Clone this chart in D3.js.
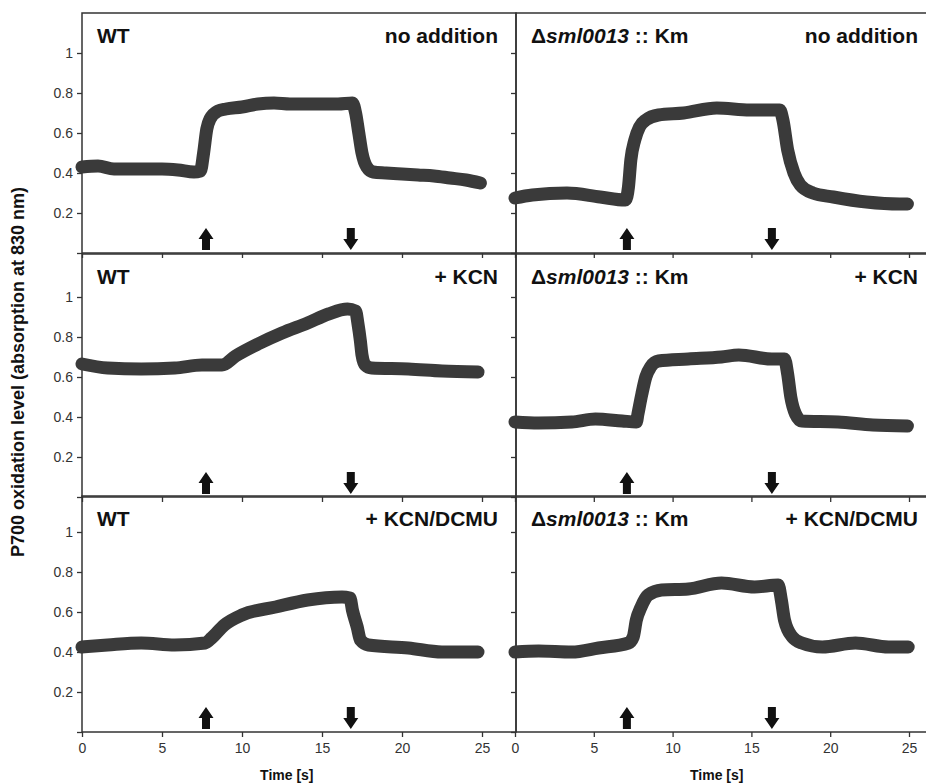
<!DOCTYPE html>
<html lang="en">
<head>
  <meta charset="UTF-8">
  <title>P700 oxidation traces</title>
  <style>
    body { margin: 0; background: #fff; }
    svg { display: block; font-family: "Liberation Sans", Arial, sans-serif; }
  </style>
</head>
<body>
  <svg class="p700-chart"></svg>
  <script src="https://cdn.jsdelivr.net/npm/d3@7"></script>
  <script>
    var w = 926;
    var h = 784;

    // tick values and labels
    var timeTicks = [0, 5, 10, 15, 20, 25];
    var levelTicks = [0, 0.2, 0.4, 0.6, 0.8, 1];
    var genotypes = ["WT", "Δsml0013 :: Km"];
    var treatments = ["no addition", "+ KCN", "+ KCN/DCMU"];

    // light on / light off arrows (s), per column
    var arrowTimes = [[7.75, 16.8], [7.1, 16.3]];

    // traces: [time (s), oxidation level]
    var wtNone = [
      [0, 0.43], [1, 0.435], [2, 0.42], [3, 0.42], [4, 0.42], [5, 0.42], [6, 0.415], [7, 0.405],
      [7.4, 0.41], [7.6, 0.5], [7.8, 0.62], [8.0, 0.67], [8.5, 0.71], [9, 0.72], [10, 0.73],
      [11, 0.745], [12, 0.75], [13, 0.745], [14, 0.745], [15, 0.745], [16, 0.745], [16.9, 0.75],
      [17.1, 0.7], [17.3, 0.6], [17.5, 0.5], [17.8, 0.43], [18.2, 0.405], [19, 0.4], [20, 0.395],
      [21, 0.39], [22, 0.385], [23, 0.375], [24, 0.365], [24.9, 0.35]
    ];
    var wtKcn = [
      [0, 0.665], [1.6, 0.645], [3.7, 0.64], [5.8, 0.645], [7.5, 0.66], [8.75, 0.66],
      [9.6, 0.705], [11, 0.765], [12.5, 0.82], [14.1, 0.87], [15.4, 0.915], [16.6, 0.94],
      [17.1, 0.93], [17.25, 0.865], [17.4, 0.78], [17.5, 0.71], [17.7, 0.66], [18.1, 0.645],
      [20.4, 0.64], [22.5, 0.63], [24.75, 0.625]
    ];
    var wtKcnDcmu = [
      [0, 0.425], [1.6, 0.435], [3.7, 0.445], [5.8, 0.435], [7.7, 0.445], [8.1, 0.47],
      [8.9, 0.535], [10, 0.585], [12.1, 0.625], [14.1, 0.66], [16.25, 0.675], [16.75, 0.67],
      [16.9, 0.61], [17.2, 0.525], [17.4, 0.46], [17.9, 0.435], [20.4, 0.42], [22.5, 0.4],
      [24.75, 0.4]
    ];
    var mutNone = [
      [0, 0.275], [1.1, 0.29], [3.3, 0.3], [5.4, 0.28], [7.0, 0.265], [7.2, 0.33], [7.35, 0.465],
      [7.6, 0.565], [7.9, 0.63], [8.3, 0.665], [9.1, 0.69], [10.7, 0.7], [12.8, 0.725],
      [14.9, 0.715], [16.8, 0.715], [17.0, 0.665], [17.3, 0.515], [17.7, 0.4], [18.1, 0.34],
      [18.9, 0.3], [20.2, 0.28], [22.3, 0.255], [24.4, 0.245], [24.9, 0.245]
    ];
    var mutKcn = [
      [0, 0.375], [1.5, 0.37], [3.6, 0.375], [5.1, 0.39], [6.8, 0.38], [7.7, 0.375],
      [7.8, 0.415], [8.05, 0.515], [8.3, 0.6], [8.6, 0.65], [9.1, 0.68], [11, 0.69],
      [13.1, 0.7], [14.2, 0.71], [16.3, 0.69], [17.1, 0.69], [17.3, 0.615], [17.5, 0.5],
      [17.8, 0.415], [18.2, 0.38], [20.5, 0.375], [22.7, 0.36], [24.9, 0.355]
    ];
    var mutKcnDcmu = [
      [0, 0.4], [1.5, 0.405], [3.6, 0.4], [5.3, 0.42], [7.2, 0.445], [7.5, 0.475], [7.7, 0.56],
      [8.0, 0.625], [8.45, 0.685], [9.3, 0.71], [11, 0.715], [13.1, 0.745], [15.2, 0.725],
      [16.7, 0.735], [16.9, 0.66], [17.1, 0.56], [17.6, 0.475], [18.2, 0.445], [19.5, 0.425],
      [21.6, 0.445], [23.7, 0.425], [24.95, 0.425]
    ];

    var traces = [
      [wtNone, mutNone],
      [wtKcn, mutKcn],
      [wtKcnDcmu, mutKcnDcmu]
    ];

    // layout
    var cols = [
      {x0: 82, x25: 482, left: 82, right: 516},
      {x0: 515, x25: 909, left: 516, right: 960}
    ];
    var rows = [
      {top: 13, bottom: 253},
      {top: 254, bottom: 497},
      {top: 496, bottom: 732}
    ];

    var svg = d3.select(".p700-chart")
      .attr("width", w)
      .attr("height", h)
      .style("overflow", "hidden");

    var upArrow = "M-4,0L4,0L4,-11L7.5,-11L0,-22L-7.5,-11L-4,-11Z";
    var downArrow = "M-4,-22L4,-22L4,-11L7.5,-11L0,0L-7.5,-11L-4,-11Z";

    rows.forEach((row, ri) => {
      cols.forEach((col, ci) => {
        var x = d3.scaleLinear().domain([0, 25]).range([col.x0, col.x25]);
        var y = d3.scaleLinear().domain([0, 1]).range([row.bottom, row.bottom - 200]);
        var g = svg.append("g");

        // frame
        g.append("rect")
          .attr("x", col.left)
          .attr("y", row.top)
          .attr("width", col.right - col.left)
          .attr("height", row.bottom - row.top)
          .attr("fill", "none")
          .attr("stroke", "#333")
          .attr("stroke-width", 1.5);

        // y axis
        g.append("g")
          .attr("transform", "translate(" + col.left + ",0)")
          .call(d3.axisLeft(y)
            .tickValues(levelTicks)
            .tickSize(5)
            .tickPadding(4)
            .tickFormat(d => (ci === 0 && d !== 0) ? String(d) : ""))
          .call(a => a.select(".domain").remove())
          .call(a => a.selectAll("line").attr("stroke", "#333").attr("stroke-width", 1.3))
          .call(a => a.selectAll("text")
            .attr("font-size", "14px")
            .attr("font-family", "'Liberation Sans', Arial, sans-serif")
            .attr("fill", "#333"));

        // x axis
        g.append("g")
          .attr("transform", "translate(0," + row.bottom + ")")
          .call(d3.axisBottom(x)
            .tickValues(timeTicks)
            .tickSize(5)
            .tickPadding(6)
            .tickFormat(d => ri === 2 ? String(d) : ""))
          .call(a => a.select(".domain").remove())
          .call(a => a.selectAll("line").attr("stroke", "#333").attr("stroke-width", 1.3))
          .call(a => a.selectAll("text")
            .attr("font-size", "14px")
            .attr("font-family", "'Liberation Sans', Arial, sans-serif")
            .attr("fill", "#333"));

        // trace
        var lineFun = d3.line()
          .x(d => x(d[0]))
          .y(d => y(d[1]))
          .curve(d3.curveMonotoneX);

        g.append("path")
          .attr("d", lineFun(traces[ri][ci]))
          .attr("fill", "none")
          .attr("stroke", "#3a3a3a")
          .attr("stroke-width", 13)
          .attr("stroke-linejoin", "round")
          .attr("stroke-linecap", "round");

        // arrows
        g.selectAll(".arrow")
          .data(arrowTimes[ci])
          .enter()
          .append("path")
          .attr("class", "arrow")
          .attr("d", (d, i) => i === 0 ? upArrow : downArrow)
          .attr("transform", d => "translate(" + x(d) + "," + (row.bottom - 3) + ")")
          .attr("fill", "#111");

        // panel labels
        var gl = g.append("text")
          .attr("x", col.left + 15)
          .attr("y", row.top + 30)
          .attr("font-size", "21px")
          .attr("font-weight", "bold")
          .attr("fill", "#111");
        if (ci === 0) {
          gl.text(genotypes[0]);
        } else {
          gl.append("tspan").text("Δ");
          gl.append("tspan").attr("font-style", "italic").text("sml0013");
          gl.append("tspan").text(" :: Km");
        }

        g.append("text")
          .attr("x", ci === 0 ? 498 : 918)
          .attr("y", row.top + 30)
          .attr("text-anchor", "end")
          .attr("font-size", "21px")
          .attr("font-weight", "bold")
          .attr("fill", "#111")
          .text(treatments[ri]);

        if (ri === 2) {
          g.append("text")
            .attr("x", x(12.8))
            .attr("y", 780)
            .attr("text-anchor", "middle")
            .attr("font-size", "14px")
            .attr("font-weight", "bold")
            .attr("fill", "#111")
            .text("Time [s]");
        }
      });
    });

    // y axis title
    svg.append("text")
      .attr("transform", "translate(24,372) rotate(-90)")
      .attr("text-anchor", "middle")
      .attr("font-size", "18px")
      .attr("font-weight", "bold")
      .attr("fill", "#111")
      .text("P700 oxidation level (absorption at 830 nm)");
  </script>
</body>
</html>
